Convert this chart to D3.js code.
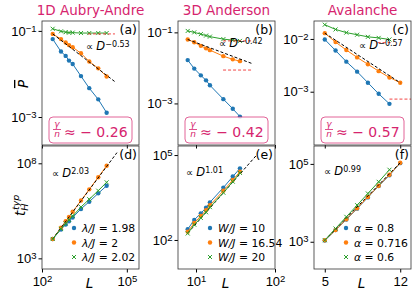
<!DOCTYPE html>
<html lang="en">
<head>
<meta charset="UTF-8">
<title>Scaling of P and t_H</title>
<style>
  html, body { margin: 0; padding: 0; background: #fff; overflow: hidden; }
  svg { display: block; font-family: 'DejaVu Sans', sans-serif; }
</style>
</head>
<body>
<svg width="416" height="293"></svg>
<script src="https://d3js.org/d3.v7.min.js"></script>
<script>
const titles = ["1D Aubry-Andre", "3D Anderson", "Avalanche"];
const tags = ["(a)", "(b)", "(c)", "(d)", "(e)", "(f)"];
const gammaRatios = ["0.26", "0.42", "0.57"];
const fitExponents = ["−0.53", "−0.42", "−0.57", "2.03", "1.01", "0.99"];

// system sizes L, one list per column (shared by both rows)
const sizesAA = [239, 469, 687, 900, 1216, 2388, 4688, 9750, 19300];
const sizesAnd = [7.85, 9.5, 11.5, 13.4, 15, 22.2, 29.2, 36];
const sizesAv = [5, 6, 7, 8, 9, 10, 11, 12];

// legend labels
const labelsAA = ["1.98", "2", "2.02"];
const labelsAnd = ["10", "16.54", "20"];
const labelsAv = ["0.8", "0.716", "0.6"];

// top row: log10 of mean P
const aBlue = [-1.19, -1.48, -1.58, -1.69, -1.77, -2.05, -2.33, -2.59, -2.90];
const aOrange = [-1.07, -1.19, -1.27, -1.33, -1.38, -1.52, -1.71, -1.87, -2.06];
const aGreen = [-0.95, -1.01, -1.03, -1.04, -1.04, -1.05, -1.05, -1.05, -1.05];
const bBlue = [-1.78, -2.02, -2.21, -2.35, -2.49, -2.88, -3.15, -3.37];
const bOrange = [-1.20, -1.28, -1.38, -1.45, -1.50, -1.67, -1.76, -1.81];
const bGreen = [-0.96, -1.00, -1.05, -1.09, -1.12, -1.19, -1.22, -1.24];
const cBlue = [-2.01, -2.22, -2.43, -2.62, -2.83, -3.04, -3.23];
const cOrange = [-1.89, -2.06, -2.21, -2.35, -2.48, -2.61, -2.73, -2.83];
const cGreen = [-1.73, -1.82, -1.88, -1.92, -1.96, -1.98, -2.01];

// bottom row: log10 of typical Heisenberg time
const dBlue = [4.02, 4.52, 4.78, 4.95, 5.15, 5.60, 5.98, 6.42, 6.82];
const dOrange = [4.02, 4.61, 4.95, 5.18, 5.45, 6.04, 6.63, 7.27, 7.87];
const dGreen = [4.02, 4.55, 4.83, 5.02, 5.23, 5.70, 6.11, 6.56, 7.00];
const eBlue = [2.38, 2.71, 2.94, 3.14, 3.33, 3.85, 4.24, 4.53];
const eOrange = [2.29, 2.60, 2.85, 3.05, 3.23, 3.74, 4.12, 4.41];
const eGreen = [2.23, 2.54, 2.78, 2.98, 3.16, 3.67, 4.06, 4.37];
const fBlue = [3.03, 3.30, 3.57, 3.85, 4.14, 4.43, 4.71, 5.02];
const fOrange = [3.04, 3.30, 3.58, 3.86, 4.15, 4.44, 4.72, 5.03];
const fGreen = [3.04, 3.34, 3.64, 3.94, 4.24, 4.54, 4.85];

// power-law fits: [L, log10 value] at both ends
const fitA = [[239, -1.07], [38000, -2.18]];
const fitB = [[7.85, -1.20], [53, -1.89]];
const fitC = [[5, -1.89], [12, -2.83]];
const fitD = [[239, 4.02], [44700, 8.56]];
const fitE = [[7.85, 2.24], [58.6, 5.0]];
const fitF = [[5, 3.04], [12, 5.03]];

// red dashed asymptotes: [L from, L to, log10 value]
const redA = [[4220, 38000, -1.07]];
const redB = [[22, 52.5, -1.24], [22, 52.5, -2.06]];
const redC = [[9.9, 11.25, -2.07], [11, 13, -3.14]];

// axis limits (log10) and ticks (log10)
const yLims = [[-3.65, -0.77], [-4.17, -0.68], [-4.01, -1.66], [2.44, 8.91], [0.975, 5.32], [2.30, 5.46]];
const yTicks = [[-3, -1], [-3, -1], [-3, -2], [3, 8], [2, 5], [3, 5]];

const colX = [[42, 139], [178, 275], [314, 411]];
const rowY = [[21, 145], [146, 269]];
const pink = "#d6246e";
const colors = ["#1f77b4", "#ff7f0e", "#2ca02c"];

const svg = d3.select("svg");

const xScales = [
  d3.scaleLog().domain([100, Math.pow(10, 5.43)]).range(colX[0]),
  d3.scaleLog().domain([Math.pow(10, 0.772), 100]).range(colX[1]),
  d3.scaleLinear().domain([4, 13]).range(colX[2])
];
const xTicks = [[100, 1e5], [10, 100], [5, 12]];
const sizes = [sizesAA, sizesAnd, sizesAv];
const legendLabels = [labelsAA, labelsAnd, labelsAv];
const legendSym = ["λ/J", "W/J", "α"];

const panels = [
  { series: [aBlue, aOrange, aGreen], fit: fitA, reds: redA },
  { series: [bBlue, bOrange, bGreen], fit: fitB, reds: redB },
  { series: [cBlue, cOrange, cGreen], fit: fitC, reds: redC },
  { series: [dBlue, dOrange, dGreen], fit: fitD, reds: [] },
  { series: [eBlue, eOrange, eGreen], fit: fitE, reds: [] },
  { series: [fBlue, fOrange, fGreen], fit: fitF, reds: [] }
];
// panel-relative position of the "∝ D^k" note
const notePos = [[44, 29], [41, 26], [45, 28], [10, 31], [8, 30], [10, 29]];

const expo = d => {
  const k = Math.round(Math.log10(d));
  return k < 0 ? "−" + (-k) : String(k);
};

function styleLogLabels(axisG) {
  axisG.selectAll(".tick text").text("10")
    .append("tspan").attr("dy", "-0.42em").attr("font-size", 9.5).text(d => expo(d));
}

panels.forEach((p, i) => {
  const c = i % 3, r = Math.floor(i / 3);
  const x = xScales[c];
  const y = d3.scaleLog().domain(yLims[i].map(v => Math.pow(10, v))).range([rowY[r][1], rowY[r][0]]);
  const g = svg.append("g");
  const L = sizes[c];

  // y axis
  const ya = g.append("g").attr("transform", `translate(${colX[c][0]},0)`)
    .call(d3.axisLeft(y).tickValues(yTicks[i].map(v => Math.pow(10, v))).tickSize(3.5).tickPadding(2));
  ya.select(".domain").remove();
  ya.selectAll("text").attr("font-size", 13).attr("fill", "#000");
  styleLogLabels(ya);

  // x axis
  const xa = g.append("g").attr("transform", `translate(0,${rowY[r][1]})`)
    .call(d3.axisBottom(x).tickValues(xTicks[c]).tickSize(3.5).tickPadding(4));
  xa.select(".domain").remove();
  xa.selectAll("text").attr("font-size", 13).attr("fill", "#000");
  if (r === 0) {
    xa.selectAll("text").remove();
  } else if (c < 2) {
    styleLogLabels(xa);
  }

  const line = d3.line().x(d => x(d[0])).y(d => y(Math.pow(10, d[1])));

  // data series
  p.series.forEach((vals, s) => {
    const pts = vals.map((v, j) => [L[j], v]);
    g.append("path").attr("d", line(pts)).attr("fill", "none")
      .attr("stroke", colors[s]).attr("stroke-width", 1);
    if (s < 2) {
      g.selectAll(null).data(pts).enter().append("circle")
        .attr("cx", d => x(d[0])).attr("cy", d => y(Math.pow(10, d[1])))
        .attr("r", 2.2).attr("fill", colors[s]);
    } else {
      g.selectAll(null).data(pts).enter().append("path")
        .attr("transform", d => `translate(${x(d[0])},${y(Math.pow(10, d[1]))})`)
        .attr("d", "M-2,-2L2,2M-2,2L2,-2").attr("stroke", colors[s]).attr("stroke-width", 1);
    }
    if (s === 1) {
      g.append("path").attr("d", line(p.fit)).attr("fill", "none")
        .attr("stroke", "#000").attr("stroke-width", 1).attr("stroke-dasharray", "3,2");
    }
  });

  // red dashed reference levels
  p.reds.forEach(rd => {
    g.append("path").attr("d", line([[rd[0], rd[2]], [rd[1], rd[2]]]))
      .attr("stroke", "#f03030").attr("stroke-width", 0.9).attr("stroke-dasharray", "3,2");
  });

  // frame
  g.append("rect").attr("x", colX[c][0]).attr("y", rowY[r][0])
    .attr("width", colX[c][1] - colX[c][0]).attr("height", rowY[r][1] - rowY[r][0])
    .attr("fill", "none").attr("stroke", "#333").attr("stroke-width", 0.8);

  // panel tag
  g.append("text").attr("x", colX[c][1] - 2).attr("y", rowY[r][0] + (r === 0 ? 12.5 : 13))
    .attr("text-anchor", "end").attr("font-size", 12.5).text(tags[i]);

  // fit note
  const nt = g.append("text").attr("x", colX[c][0] + notePos[i][0]).attr("y", rowY[r][0] + notePos[i][1])
    .attr("font-size", 11.5);
  nt.append("tspan").attr("font-size", 10).text("∝ ");
  nt.append("tspan").attr("font-style", "italic").text("D");
  nt.append("tspan").attr("dy", -3.5).attr("font-size", 8).text(fitExponents[i]);

  if (r === 0) {
    // gamma / n box
    const bx = colX[c][0] + 7, by = 117;
    g.append("rect").attr("x", bx).attr("y", by).attr("width", 83).attr("height", 26).attr("rx", 4)
      .attr("fill", "#fff").attr("fill-opacity", 0.8)
      .attr("stroke", pink).attr("stroke-opacity", 0.7).attr("stroke-width", 1);
    const fx = bx + 8;
    g.append("text").attr("x", fx).attr("y", by + 10).attr("text-anchor", "middle")
      .attr("font-size", 9).attr("font-style", "italic").attr("fill", pink).text("γ");
    g.append("line").attr("x1", fx - 4).attr("x2", fx + 4).attr("y1", by + 12.5).attr("y2", by + 12.5)
      .attr("stroke", pink).attr("stroke-width", 0.8);
    g.append("text").attr("x", fx).attr("y", by + 20).attr("text-anchor", "middle")
      .attr("font-size", 9).attr("font-style", "italic").attr("fill", pink).text("n");
    g.append("text").attr("x", fx + 7).attr("y", by + 19.5).attr("font-size", 14)
      .attr("fill", pink).text("≈ − " + gammaRatios[c]);

    // column title
    svg.append("text").attr("x", (colX[c][0] + colX[c][1]) / 2).attr("y", 15)
      .attr("text-anchor", "middle").attr("font-size", 13.5).attr("fill", pink).text(titles[c]);
  } else {
    // legend
    const lx = colX[c][0] + 32, ly = [228, 242.5, 257];
    legendLabels[c].forEach((lab, s) => {
      if (s < 2) {
        g.append("circle").attr("cx", lx).attr("cy", ly[s]).attr("r", 2.2).attr("fill", colors[s]);
      } else {
        g.append("path").attr("transform", `translate(${lx},${ly[s]})`)
          .attr("d", "M-2,-2L2,2M-2,2L2,-2").attr("stroke", colors[s]).attr("stroke-width", 1);
      }
      const t = g.append("text").attr("x", lx + 8).attr("y", ly[s] + 4).attr("font-size", 10.8);
      t.append("tspan").attr("font-style", "italic").text(legendSym[c]);
      t.append("tspan").text(" = " + lab);
    });
    // x label
    svg.append("text").attr("x", (colX[c][0] + colX[c][1]) / 2 - 1).attr("y", 288)
      .attr("text-anchor", "middle").attr("font-size", 13.5).attr("font-style", "italic").text("L");
  }
});

// y labels
svg.append("text").attr("transform", "translate(28,84) rotate(-90)")
  .attr("text-anchor", "middle").attr("font-size", 13.5).attr("font-style", "italic")
  .attr("text-decoration", "overline").text("P");

const ty = svg.append("text").attr("transform", "translate(25,216) rotate(-90)")
  .attr("font-size", 13.5).attr("font-style", "italic");
ty.append("tspan").text("t");
ty.append("tspan").attr("dy", 3).attr("font-size", 9.5).text("H");
ty.append("tspan").attr("dx", -6.5).attr("dy", -9.5).attr("font-size", 9.5).text("typ");
</script>
</body>
</html>
